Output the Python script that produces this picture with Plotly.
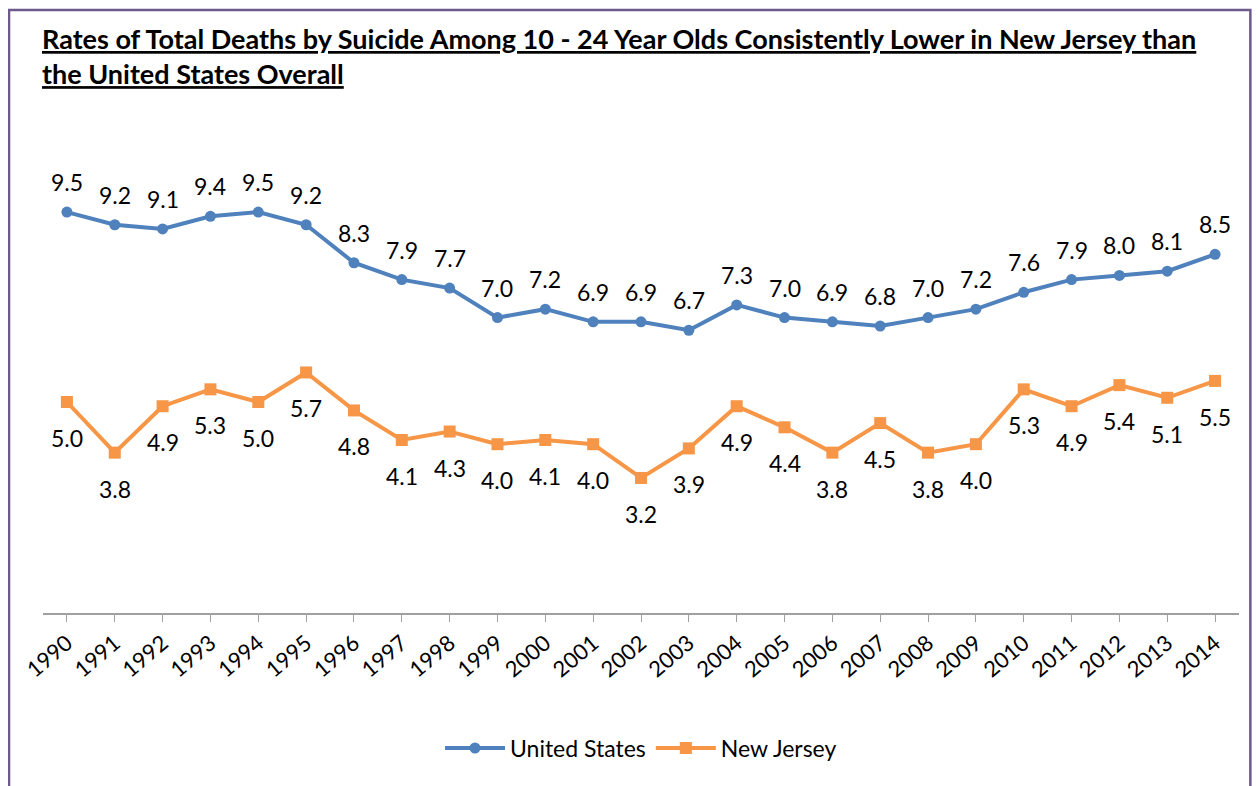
import plotly.graph_objects as go

years = [str(y) for y in range(1990, 2015)]
us_rates = [9.5, 9.2, 9.1, 9.4, 9.5, 9.2, 8.3, 7.9, 7.7, 7.0, 7.2, 6.9, 6.9, 6.7, 7.3,
            7.0, 6.9, 6.8, 7.0, 7.2, 7.6, 7.9, 8.0, 8.1, 8.5]
nj_rates = [5.0, 3.8, 4.9, 5.3, 5.0, 5.7, 4.8, 4.1, 4.3, 4.0, 4.1, 4.0, 3.2, 3.9, 4.9,
            4.4, 3.8, 4.5, 3.8, 4.0, 5.3, 4.9, 5.4, 5.1, 5.5]

FONT = "Lato"
US_COLOR = "#4F81BD"
NJ_COLOR = "#F79646"

fig = go.Figure()
fig.add_trace(go.Scatter(x=years, y=us_rates, name="United States", mode="lines+markers",
                         line=dict(color=US_COLOR, width=4),
                         marker=dict(symbol="circle", size=11, color=US_COLOR)))
fig.add_trace(go.Scatter(x=years, y=nj_rates, name="New Jersey", mode="lines+markers",
                         line=dict(color=NJ_COLOR, width=4),
                         marker=dict(symbol="square", size=12, color=NJ_COLOR)))

# data labels (x given as category index)
for i, v in enumerate(us_rates):
    fig.add_annotation(x=i, y=v, text=f"{v:.1f}", showarrow=False, yshift=30,
                       font=dict(family=FONT, size=23, color="black"))
for i, v in enumerate(nj_rates):
    fig.add_annotation(x=i, y=v, text=f"{v:.1f}", showarrow=False, yshift=-36,
                       font=dict(family=FONT, size=23, color="black"))

fig.add_annotation(xref="paper", yref="paper", x=-0.0025, y=1.405, xanchor="left", yanchor="top",
                   align="left", showarrow=False,
                   text="<b><u>Rates of Total Deaths by Suicide Among 10 - 24 Year Olds Consistently Lower in New Jersey than</u></b>"
                        "<br><b><u>the United States Overall</u></b>",
                   font=dict(family=FONT, size=27, color="black"))

# outer border
fig.add_shape(type="rect", xref="paper", yref="paper", x0=-0.0284, x1=1.0095, y0=-0.6, y1=1.4290,
              line=dict(color="#6E5A8A", width=2.5), layer="below")

fig.update_layout(
    width=1252, height=778,
    margin=dict(l=35, r=21, t=183, b=173),
    paper_bgcolor="white", plot_bgcolor="white",
    font=dict(family=FONT, size=18, color="black"),
    showlegend=True,
    legend=dict(orientation="h", x=0.5, xanchor="center", y=-0.32, yanchor="middle",
                font=dict(family=FONT, size=23), itemwidth=60),
    xaxis=dict(type="category", showgrid=False, showline=True, linecolor="#A0A0A0", linewidth=1.5,
               ticks="outside", ticklen=7, tickcolor="#A0A0A0", tickangle=-40,
               tickfont=dict(family=FONT, size=22), range=[-0.5, 24.5]),
    yaxis=dict(range=[0, 10], showgrid=False, showticklabels=False, zeroline=False, showline=False),
)

fig.write_html("out.html")
